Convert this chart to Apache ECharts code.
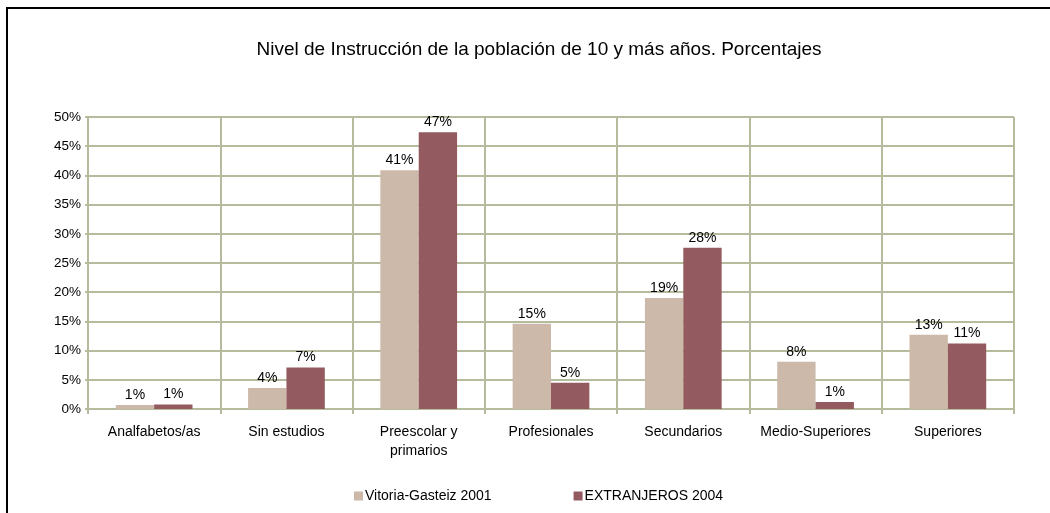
<!DOCTYPE html>
<html>
<head>
<meta charset="utf-8">
<script src="https://cdn.jsdelivr.net/npm/echarts@6/dist/echarts.min.js"></script>
<style>
  html, body { margin: 0; padding: 0; background: #fff; }
  #main { width: 1050px; height: 513px; }
</style>
</head>
<body>
<div id="main"></div>
<script>
// categorías y valores (%)
const categories = ['Analfabetos/as', 'Sin estudios', 'Preescolar y\nprimarios', 'Profesionales', 'Secundarios', 'Medio-Superiores', 'Superiores']
const vitoria2001 = [0.7, 3.6, 40.9, 14.6, 19.0, 8.1, 12.7]
const extranjeros2004 = [0.75, 7.1, 47.4, 4.5, 27.6, 1.2, 11.2]
const yTicks = [0, 5, 10, 15, 20, 25, 30, 35, 40, 45, 50]

const gridColor = '#b5bc9d'
const font = 'Liberation Sans, Arial, sans-serif'

const chart = echarts.init(document.getElementById('main'))
chart.setOption({
  animation: false,
  textStyle: { fontFamily: font },
  title: {
    text: 'Nivel de Instrucción de la población de 10 y más años. Porcentajes',
    left: 534,
    textAlign: 'center',
    top: 35,
    textStyle: { fontSize: 19, fontWeight: 'normal', color: '#000', fontFamily: font }
  },
  // marco negro (solo arriba e izquierda visibles)
  graphic: [{
    type: 'rect',
    shape: { x: 7, y: 8, width: 1100, height: 600 },
    style: { fill: 'none', stroke: '#000', lineWidth: 2 },
    silent: true
  }],
  legend: {
    left: 349,
    top: 484,
    itemWidth: 9,
    itemHeight: 9,
    itemGap: 82,
    icon: 'rect',
    textStyle: { fontSize: 14, color: '#000', fontFamily: font, padding: [0, 0, 0, -3] },
    data: ['Vitoria-Gasteiz 2001', 'EXTRANJEROS 2004']
  },
  grid: { left: 88, right: 36, top: 117, bottom: 104, containLabel: false },
  xAxis: {
    type: 'category',
    data: categories,
    axisLine: { show: true, lineStyle: { color: gridColor, width: 2 } },
    axisTick: { show: true, length: 5, lineStyle: { color: gridColor, width: 2 } },
    splitLine: { show: true, interval: 0, lineStyle: { color: gridColor, width: 2 } },
    axisLabel: { interval: 0, fontSize: 14, color: '#000', margin: 14, lineHeight: 19, fontFamily: font }
  },
  yAxis: {
    type: 'value',
    min: yTicks[0],
    max: yTicks[yTicks.length - 1],
    interval: 5,
    axisLine: { show: true, lineStyle: { color: gridColor, width: 2 } },
    axisTick: { show: true, length: 3, lineStyle: { color: gridColor, width: 2 } },
    splitLine: { show: true, lineStyle: { color: gridColor, width: 2 } },
    axisLabel: { formatter: '{value}%', fontSize: 13.5, color: '#000', margin: 7, fontFamily: font }
  },
  series: [
    {
      name: 'Vitoria-Gasteiz 2001',
      type: 'bar',
      data: vitoria2001,
      barGap: '0%',
      barCategoryGap: '42%',
      itemStyle: { color: '#cdb9a9' },
      label: {
        show: true,
        position: 'top',
        distance: 3,
        fontSize: 14,
        color: '#000',
        fontFamily: font,
        formatter: p => Math.round(p.value) + '%'
      }
    },
    {
      name: 'EXTRANJEROS 2004',
      type: 'bar',
      data: extranjeros2004,
      barGap: '0%',
      barCategoryGap: '42%',
      itemStyle: { color: '#935b5f' },
      label: {
        show: true,
        position: 'top',
        distance: 3,
        fontSize: 14,
        color: '#000',
        fontFamily: font,
        formatter: p => Math.round(p.value) + '%'
      }
    }
  ]
})
</script>
</body>
</html>
